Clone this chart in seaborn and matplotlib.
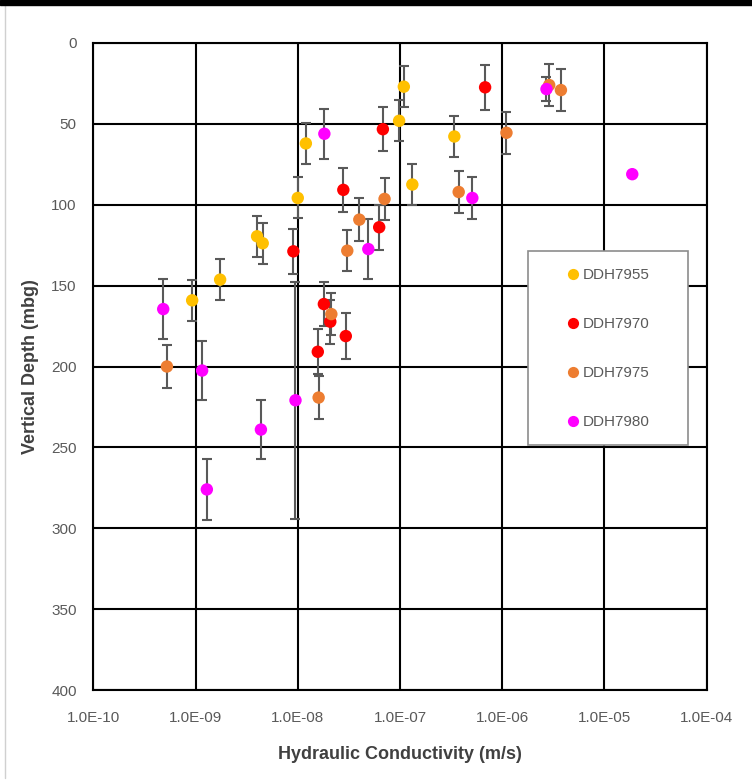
import numpy as np
import pandas as pd
import matplotlib
matplotlib.use("Agg")
import matplotlib.pyplot as plt
import seaborn as sns
from matplotlib.ticker import FixedLocator, FuncFormatter, NullLocator

# ---- data ----
series_names = ["DDH7955", "DDH7970", "DDH7975", "DDH7980"]
series_colors = ["#FFC000", "#FF0000", "#ED7D31", "#FF00FF"]

k_7955 = [1.09e-7, 9.8e-8, 1.2e-8, 3.4e-7, 1.32e-7, 1.0e-8, 4.0e-9, 4.54e-9, 1.74e-9, 9.27e-10]
d_7955 = [27.0, 48.1, 62.1, 57.8, 87.5, 95.8, 119.5, 123.8, 146.3, 159.1]
e_7955 = [12.7, 12.6, 12.7, 12.6, 12.5, 12.7, 12.7, 12.6, 12.6, 12.7]

k_7970 = [6.8e-7, 6.8e-8, 2.79e-8, 6.26e-8, 9.06e-9, 1.8e-8, 2.08e-8, 2.95e-8, 1.57e-8]
d_7970 = [27.4, 53.3, 90.8, 113.9, 128.8, 161.4, 172.3, 181.2, 190.9]
e_7970 = [14.0, 13.7, 13.7, 14.0, 14.0, 13.6, 13.7, 14.0, 14.0]

k_7975 = [2.88e-6, 3.75e-6, 1.1e-6, 3.75e-7, 7.06e-8, 4.0e-8, 3.05e-8, 2.13e-8, 1.6e-8, 5.25e-10]
d_7975 = [26.0, 29.1, 55.5, 92.1, 96.4, 109.2, 128.4, 167.6, 219.2, 200.0]
e_7975 = [13.2, 13.1, 12.9, 12.8, 12.9, 13.3, 12.8, 12.9, 13.2, 13.1]

k_7980 = [2.71e-6, 1.82e-8, 1.87e-5, 5.1e-7, 4.9e-8, 4.83e-10, 1.16e-9, 9.5e-9, 4.36e-9, 1.29e-9]
d_7980 = [28.5, 56.1, 81.1, 95.8, 127.4, 164.5, 202.5, 220.9, 239.0, 276.0]
e_7980 = [7.2, 15.6, 0.0, 13.2, 18.5, 18.3, 18.2, 73.3, 18.2, 19.0]

x_ticks = [1e-10, 1e-9, 1e-8, 1e-7, 1e-6, 1e-5, 1e-4]
y_ticks = [0, 50, 100, 150, 200, 250, 300, 350, 400]

frames = []
for name, k, d, e in zip(series_names,
                         [k_7955, k_7970, k_7975, k_7980],
                         [d_7955, d_7970, d_7975, d_7980],
                         [e_7955, e_7970, e_7975, e_7980]):
    frames.append(pd.DataFrame({"K": k, "Depth": d, "Err": e, "Hole": name}))
df = pd.concat(frames, ignore_index=True)

# ---- figure ----
sns.set_style("white")
fam = ["Liberation Sans", "DejaVu Sans"]
plt.rcParams["font.family"] = fam

W, H = 752, 782
fig = plt.figure(figsize=(W / 100, H / 100), dpi=100)
ax = fig.add_axes([93.3 / W, 1 - 690 / H, (706.7 - 93.3) / W, (690 - 43) / H])

# error bars (gray, under markers)
eb = df[df["Err"] > 0]
ax.errorbar(eb["K"], eb["Depth"], yerr=eb["Err"], fmt="none",
            ecolor="#595959", elinewidth=1.5, capsize=3.5, capthick=1.5, zorder=3)

sns.scatterplot(data=df, x="K", y="Depth", hue="Hole", hue_order=series_names,
                palette=dict(zip(series_names, series_colors)),
                s=80, edgecolor="none", linewidth=0, ax=ax, zorder=4)

ax.set_xscale("log")
ax.set_xlim(1e-10, 1e-4)
ax.set_ylim(400, 0)

ax.xaxis.set_major_locator(FixedLocator(x_ticks))
ax.xaxis.set_minor_locator(NullLocator())
ax.xaxis.set_major_formatter(FuncFormatter(lambda v, p: "1.0E-%02d" % round(-np.log10(v))))
ax.yaxis.set_major_locator(FixedLocator(y_ticks))

ax.grid(True, which="major", color="black", linewidth=1.5)
ax.set_axisbelow(True)
for sp in ax.spines.values():
    sp.set_color("black")
    sp.set_linewidth(1.5)
    sp.set_visible(True)

ax.tick_params(axis="both", length=0, labelsize=11, labelcolor="#595959")
ax.tick_params(axis="x", pad=15)
ax.tick_params(axis="y", pad=12)

ax.set_xlabel("Hydraulic Conductivity (m/s)", fontsize=13, fontweight="bold",
              color="#404040", labelpad=15)
ax.set_ylabel("Vertical Depth (mbg)", fontsize=13, fontweight="bold",
              color="#404040", labelpad=9)

# legend (frameless) plus a separate frame box matching the reference
leg = ax.legend(loc="upper left", bbox_to_anchor=(565 / W, 1 - 268 / H),
                bbox_transform=fig.transFigure,
                frameon=False, fontsize=11, labelspacing=2.3, borderpad=0,
                handletextpad=0.15, handlelength=1.0, markerscale=0.9,
                borderaxespad=0, title=None)
for t in leg.get_texts():
    t.set_color("#595959")
leg.set_zorder(6)

ax.add_patch(plt.Rectangle((528 / W, 1 - 445 / H), (688 - 528) / W, (445 - 251) / H,
                           transform=fig.transFigure, facecolor="white",
                           edgecolor="#8c8c8c", linewidth=1.2, zorder=5, clip_on=False))

# screenshot decorations: black top bar and thin gray left line
fig.patches.append(plt.Rectangle((0, 1 - 5 / H), 1, 5 / H, transform=fig.transFigure,
                                 color="black", zorder=10))
fig.lines.append(plt.Line2D([5 / W, 5 / W], [1 - 5 / H, 1 - 778 / H],
                            transform=fig.transFigure, color="#d0d0d0", linewidth=1))

fig.savefig("out.png", dpi=100)
